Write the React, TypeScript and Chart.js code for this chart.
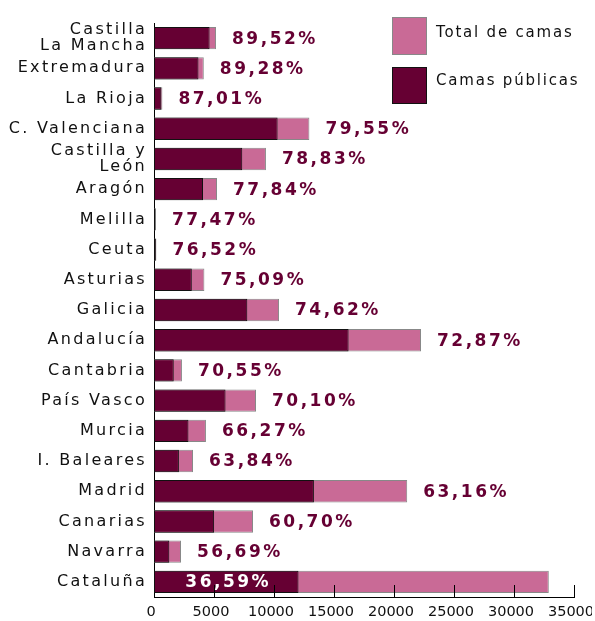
import React, { useEffect, useRef } from 'react';
import { Chart, registerables } from 'chart.js';

Chart.register(...registerables);

const categories: (string | string[])[] = [
  ['Castilla', 'La Mancha'], 'Extremadura', 'La Rioja', 'C. Valenciana', ['Castilla y', 'León'],
  'Aragón', 'Melilla', 'Ceuta', 'Asturias', 'Galicia', 'Andalucía', 'Cantabria', 'País Vasco',
  'Murcia', 'I. Baleares', 'Madrid', 'Canarias', 'Navarra', 'Cataluña',
];
const totalBeds = [5170, 4150, 700, 12950, 9330, 5250, 160, 200, 4200, 10420, 22250, 2330, 8500, 4330, 3250, 21100, 8250, 2250, 32900];
const publicBeds = [4630, 3705, 610, 10300, 7355, 4085, 124, 153, 3150, 7775, 16215, 1645, 5960, 2870, 2075, 13325, 5010, 1275, 12040];
const percentLabels = ['89,52%', '89,28%', '87,01%', '79,55%', '78,83%', '77,84%', '77,47%', '76,52%', '75,09%', '74,62%', '72,87%', '70,55%', '70,10%', '66,27%', '63,84%', '63,16%', '60,70%', '56,69%', '36,59%'];
const xTickLabels = ['0', '5000', '10000', '15000', '20000', '25000', '30000', '35000'];
const legendLabels = ['Total de camas', 'Camas públicas'];

const DARK = '#660033';
const PINK = '#C96A96';
const FONT = '"DejaVu Sans", Verdana, sans-serif';

const customPlugin = {
  id: 'custom',
  beforeDraw(chart: any) {
    chart.ctx.letterSpacing = '2.3px';
  },
  afterDatasetsDraw(chart: any) {
    // state for x-axis tick labels, drawn after datasets (ticks z = 1)
    chart.ctx.letterSpacing = '0px';
    chart.ctx.setTransform(1, 0, 0, 1, -3, 0);
  },
  afterDraw(chart: any) {
    const ctx = chart.ctx;
    ctx.setTransform(1, 0, 0, 1, 0, 0);
    const xs = chart.scales.x;
    const area = chart.chartArea;
    ctx.save();
    ctx.strokeStyle = '#000';
    ctx.lineWidth = 1;
    xs.ticks.forEach((t: any) => {
      if (t.value === 0) return;
      const px = Math.round(xs.getPixelForValue(t.value)) + 0.5;
      ctx.beginPath();
      ctx.moveTo(px, area.bottom);
      ctx.lineTo(px, area.bottom - 12);
      ctx.stroke();
    });
    const metaTotal = chart.getDatasetMeta(1);
    const metaPub = chart.getDatasetMeta(0);
    ctx.font = `bold 17px ${FONT}`;
    ctx.letterSpacing = '2.5px';
    ctx.textBaseline = 'middle';
    percentLabels.forEach((lab, i) => {
      const bt = metaTotal.data[i];
      if (i === percentLabels.length - 1) {
        const bp = metaPub.data[i];
        ctx.fillStyle = '#fff';
        ctx.textAlign = 'center';
        ctx.fillText(lab, (bp.x + bp.base) / 2 + 2, bp.y + 1);
      } else {
        ctx.fillStyle = DARK;
        ctx.textAlign = 'left';
        ctx.fillText(lab, bt.x + 16, bt.y + 1);
      }
    });
    ctx.letterSpacing = '1.8px';
    ctx.fillStyle = PINK;
    ctx.fillRect(392, 17, 34, 37);
    ctx.strokeStyle = '#888';
    ctx.strokeRect(392.5, 17.5, 34, 37);
    ctx.fillStyle = DARK;
    ctx.fillRect(392, 67, 34, 36);
    ctx.strokeStyle = '#111';
    ctx.strokeRect(392.5, 67.5, 34, 36);
    ctx.fillStyle = '#111';
    ctx.font = `15px ${FONT}`;
    ctx.textAlign = 'left';
    ctx.textBaseline = 'middle';
    ctx.fillText(legendLabels[0], 436, 33);
    ctx.fillText(legendLabels[1], 436, 81);
    ctx.restore();
  },
};

export default function App() {
  const ref = useRef<HTMLCanvasElement>(null);
  useEffect(() => {
    if (!ref.current) return;
    const chart = new Chart(ref.current, {
      type: 'bar',
      data: {
        labels: categories,
        datasets: [
          {
            label: legendLabels[1],
            data: publicBeds,
            backgroundColor: DARK,
            borderColor: '#111',
            borderWidth: 1,
            borderSkipped: false,
          },
          {
            label: legendLabels[0],
            data: totalBeds,
            backgroundColor: PINK,
            borderColor: '#888',
            borderWidth: 1,
            borderSkipped: false,
          },
        ],
      },
      options: {
        indexAxis: 'y',
        responsive: false,
        animation: false,
        events: [],
        layout: { padding: { top: 23, right: 21, left: 0, bottom: 0 } },
        datasets: { bar: { grouped: false, categoryPercentage: 1, barPercentage: 0.74 } },
        plugins: { legend: { display: false }, tooltip: { enabled: false } },
        scales: {
          x: {
            min: 0,
            max: 35000,
            ticks: {
              stepSize: 5000,
              color: '#111',
              padding: 7,
              maxRotation: 0,
              z: 1,
              font: { family: FONT, size: 14.5 },
              callback: (_v: any, i: number) => xTickLabels[i],
            },
            grid: { display: false, drawTicks: false },
            border: { display: true, color: '#000', width: 1 },
            afterFit: (s: any) => { s.height = 24; s.paddingLeft = 0; s.paddingRight = 0; },
          },
          y: {
            ticks: {
              color: '#111',
              padding: 7,
              font: { family: FONT, size: 16, lineHeight: 1.0 },
              autoSkip: false,
            },
            grid: { display: false, drawTicks: false },
            border: { display: true, color: '#000', width: 1 },
            afterFit: (s: any) => { s.width = 154; s.paddingTop = 0; s.paddingBottom = 0; },
          },
        },
      },
      plugins: [customPlugin],
    } as any);
    return () => chart.destroy();
  }, []);
  return (
    <div style={{ position: 'fixed', left: 0, top: 0, width: 595, height: 621, background: '#fff' }}>
      <canvas ref={ref} width={595} height={621} />
    </div>
  );
}
